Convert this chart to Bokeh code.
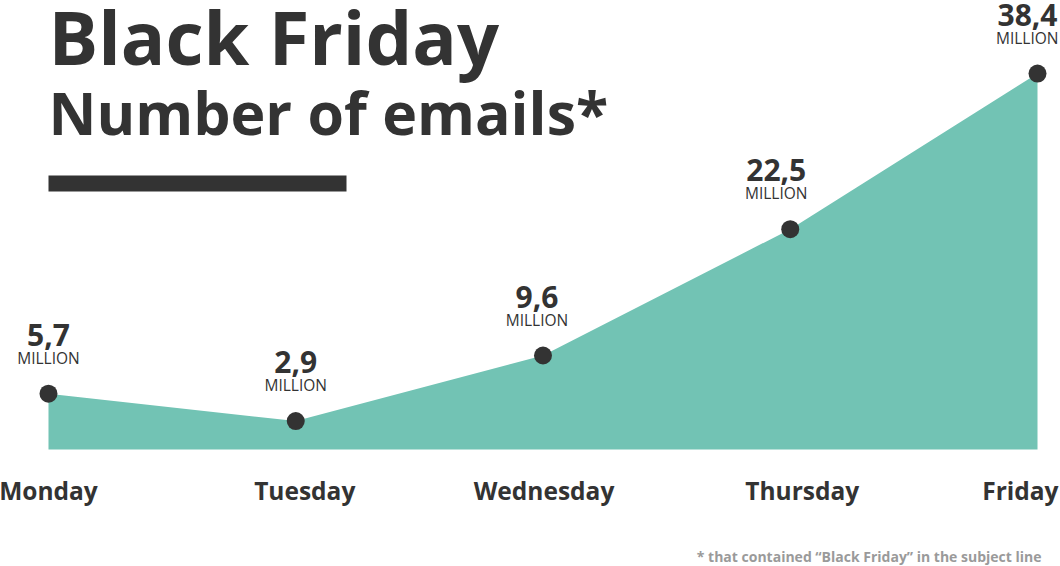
from bokeh.plotting import figure
from bokeh.models import ColumnDataSource, Label, BoxAnnotation, Range1d
from bokeh.core.properties import value
from bokeh.embed import file_html
from bokeh.resources import INLINE

days = ["Monday", "Tuesday", "Wednesday", "Thursday", "Friday"]
emails_million = [5.7, 2.9, 9.6, 22.5, 38.4]
value_labels = ["5,7", "2,9", "9,6", "22,5", "38,4"]
unit_label = "MILLION"
title_line1 = "Black Friday"
title_line2 = "Number of emails*"
footnote = "* that contained \u201cBlack Friday\u201d in the subject line"

TEAL = "#72c3b4"
DARK = "#333333"
FONT = "Open Sans"

W, H = 1060, 566
idx = list(range(len(days)))

p = figure(width=W, height=H, output_backend="svg", toolbar_location=None,
           x_range=Range1d(-0.1941, 4.093), y_range=Range1d(-11.95, 45.86),
           min_border=0)
p.axis.visible = False
p.grid.visible = False
p.outline_line_color = None
p.background_fill_color = "white"
p.border_fill_color = "white"

src = ColumnDataSource(dict(
    x=idx, y=emails_million, vlab=value_labels, day=days,
    unit=[unit_label] * len(days),
    align=["center", "center", "center", "center", "right"],
    vxoff=[0, 0, -6, -14, 20],
    uxoff=[0, 0, -6, -14, 21],
    dxoff=[0, 9, 1, 12, 21],
))

p.varea(x="x", y1=0, y2="y", source=src, fill_color=TEAL)
p.scatter(x="x", y="y", source=src, size=18, fill_color=DARK, line_color=None)

p.text(x="x", y="y", text="vlab", source=src, x_offset="vxoff", y_offset=-59,
       text_font=value(FONT), text_font_style="bold", text_font_size="30px",
       text_color=DARK, text_align="align", text_baseline="alphabetic")
p.text(x="x", y="y", text="unit", source=src, x_offset="uxoff", y_offset=-36,
       text_font=value(FONT), text_font_size="15.5px",
       text_color=DARK, text_align="align", text_baseline="alphabetic")
p.text(x="x", y=0, text="day", source=src, x_offset="dxoff", y_offset=41,
       text_font=value(FONT), text_font_style="bold", text_font_size="24.5px",
       text_color=DARK, text_align="align", text_baseline="alphabetic")

p.add_layout(Label(x=48, y=H - 36, x_units="screen", y_units="screen",
                   text=title_line1, text_font=FONT, text_font_style="bold",
                   text_font_size="74px", text_color=DARK,
                   text_baseline="alphabetic"))
p.add_layout(Label(x=48, y=H - 111, x_units="screen", y_units="screen",
                   text=title_line2, text_font=FONT, text_font_style="bold",
                   text_font_size="59px", text_color=DARK,
                   text_baseline="alphabetic"))
p.add_layout(BoxAnnotation(left=48, right=346, top=H - 175, bottom=H - 191,
                           left_units="screen", right_units="screen",
                           top_units="screen", bottom_units="screen",
                           fill_color=DARK, fill_alpha=1, line_color=None))
p.add_layout(Label(x=1041, y=H - 556, x_units="screen", y_units="screen",
                   text=footnote, text_font=FONT, text_font_style="bold",
                   text_font_size="14px", text_color="#9a9a9a",
                   text_align="right", text_baseline="alphabetic"))

open("out.html", "w").write(file_html(p, INLINE))
